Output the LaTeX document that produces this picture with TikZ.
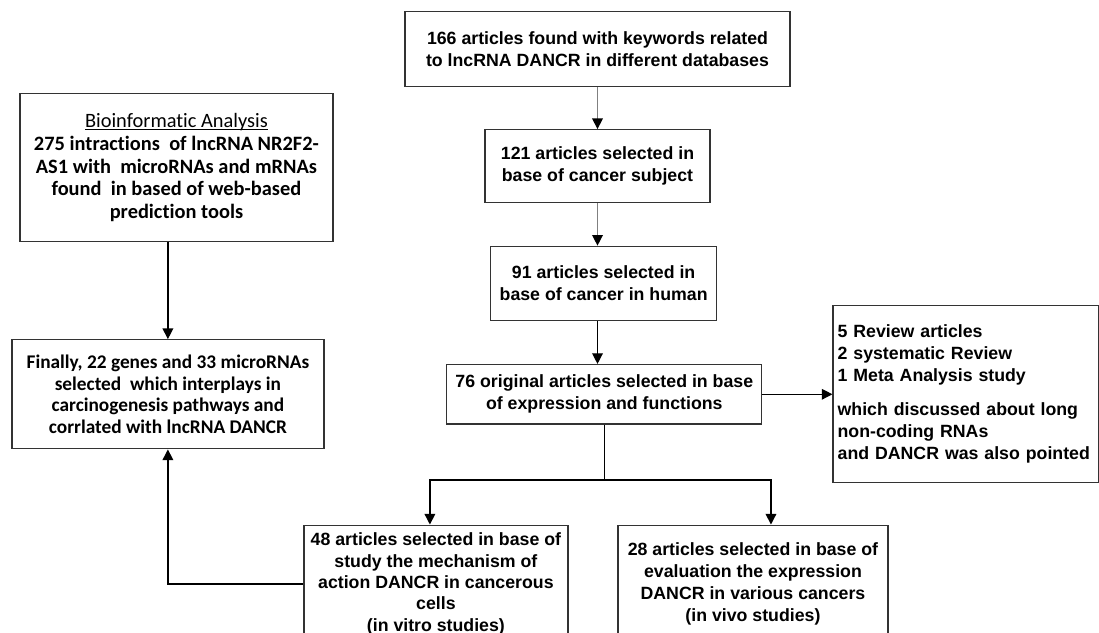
\documentclass[tikz,border=0pt]{standalone}
\usepackage{fontspec}
\setmainfont{Liberation Sans}
\newfontfamily\calfont[Ligatures=NoCommon]{Carlito}
\usetikzlibrary{positioning,arrows.meta}

\tikzset{
  box/.style={draw=black!80, line width=1pt, align=center, inner sep=2pt,
    font=\bfseries\fontsize{13.3}{16.5}\selectfont},
  calbox/.style={box, font=\calfont\bfseries\fontsize{15.3}{17}\selectfont},
  arr/.style={line width=1pt, -{Triangle[length=8pt,width=8pt]}},
  grayarr/.style={arr, draw=gray, -{Triangle[length=8pt,width=8pt,black]}},
}

\begin{document}
\begin{tikzpicture}[x=0.75pt, y=-0.75pt, on grid]
  \useasboundingbox (0,0) rectangle (1099,632);
  % main chain
  \node[box, minimum width=288.75pt, minimum height=56.25pt] (found) at (597.5,49.2)
    {166 articles found with keywords related\\to lncRNA DANCR in different databases};
  \node[box, minimum width=168.75pt, minimum height=54.75pt] (subject) [below=87.8pt of found]
    {121 articles selected in\\base of cancer subject};
  \node[box, minimum width=169.5pt, minimum height=55.5pt] (human) [below=87.8pt of subject, xshift=4.6pt]
    {91 articles selected in\\base of cancer in human};
  \node[box, minimum width=236.25pt, minimum height=44.5pt] (original) [below=83.2pt of human, xshift=0.5pt]
    {76 original articles selected in base\\of expression and functions};
  \node[box, align=left, text width=192pt, inner xsep=3.4pt, minimum height=132.75pt] (reviews) [right=271pt of original]
    {5 Review articles\\2 systematic Review\\1 Meta Analysis study\\[9pt]which discussed about long\\non-coding RNAs\\and DANCR was also pointed};
  % bioinformatic side
  \node[calbox, minimum width=234pt, minimum height=81.75pt, font=\calfont\bfseries\fontsize{14.5}{16.3}\selectfont] (final) [left=327.3pt of original]
    {Finally, 22 genes and 33 microRNAs\\selected\ \ which interplays in\\carcinogenesis pathways and\\corrlated with lncRNA DANCR};
  \node[calbox, minimum width=234.75pt, minimum height=111pt] (bioinf) [above=169.9pt of final, xshift=6.4pt]
    {\underline{\raisebox{0pt}[\height][0pt]{\mdseries Bioinformatic Analysis}}\\275 intractions\ \ of lncRNA NR2F2-\\AS1 with\ \ microRNAs and mRNAs\\found\ \ in based of web-based\\prediction tools};
  % studies
  \node[box, minimum width=198pt, minimum height=88pt, font=\bfseries\fontsize{13.3}{16}\selectfont] (vitro) [below left=97.7pt and 126.3pt of original, anchor=north]
    {48 articles selected in base of\\study the mechanism of\\action DANCR in cancerous\\cells\\(in vitro studies)};
  \node[box, minimum width=202.5pt, minimum height=88pt] (vivo) [below right=97.7pt and 111.5pt of original, anchor=north]
    {28 articles selected in base of\\evaluation the expression\\DANCR in various cancers\\(in vivo studies)};
  \coordinate (split) at ([yshift=-41.5pt]original.south);

  \draw[grayarr] (found) -- (subject);
  \draw[grayarr] (subject.south) -- (subject.south |- human.north);
  \draw[arr] (subject.south |- human.south) -- (subject.south |- original.north);
  \draw[arr] (original) -- (reviews);
  \draw[line width=1pt] (original.south) -- (split);
  \draw[arr] (split) -| ([xshift=-4.5pt]vitro.north);
  \draw[arr] (split) -| ([xshift=13.5pt]vivo.north);
  \draw[arr] (bioinf.south -| final.north) -- (final.north);
  \draw[arr] (vitro.west) -| (final.south);
\end{tikzpicture}
\end{document}
